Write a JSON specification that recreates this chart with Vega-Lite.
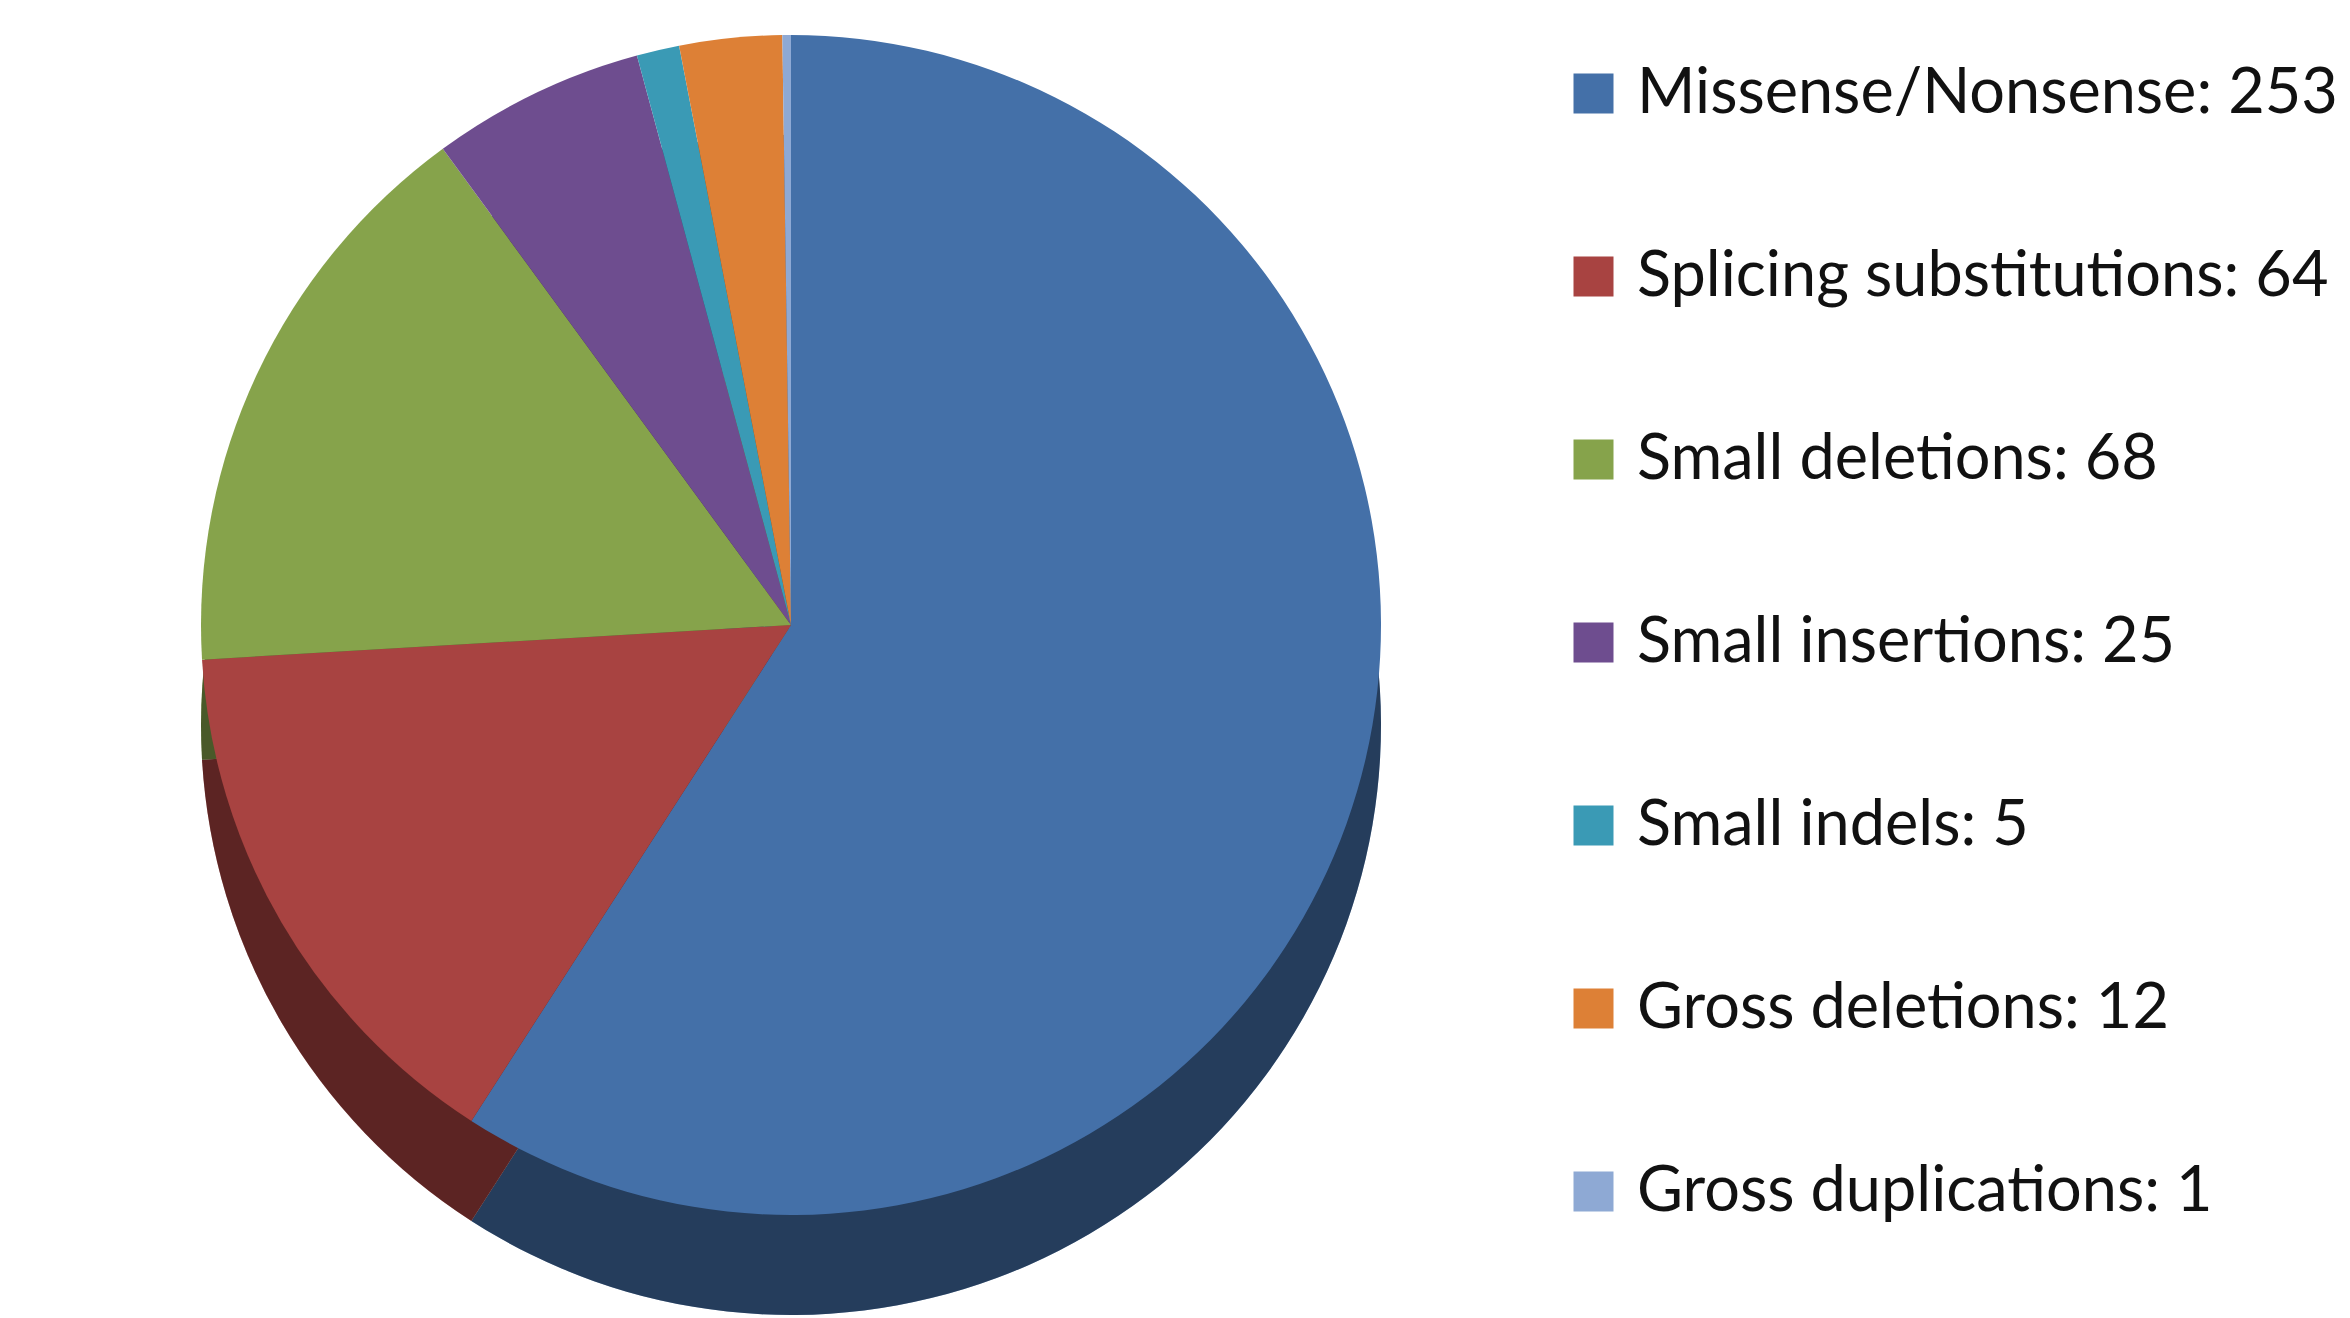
{
  "$schema": "https://vega.github.io/schema/vega-lite/v6.json",
  "autosize": {"type": "none"},
  "width": 1582,
  "height": 1250,
  "padding": {"left": 0, "top": 0, "right": 768, "bottom": 68},
  "background": "white",
  "data": {
    "values": [
      {"category": "Missense/Nonsense", "count": 253},
      {"category": "Splicing substitutions", "count": 64},
      {"category": "Small deletions", "count": 68},
      {"category": "Small insertions", "count": 25},
      {"category": "Small indels", "count": 5},
      {"category": "Gross deletions", "count": 12},
      {"category": "Gross duplications", "count": 1}
    ]
  },
  "transform": [
    {"window": [{"op": "row_number", "as": "idx"}]},
    {"calculate": "datum.category + ': ' + datum.count", "as": "label"}
  ],
  "encoding": {
    "theta": {"field": "count", "type": "quantitative", "stack": true},
    "color": {
      "field": "label",
      "type": "nominal",
      "sort": ["Missense/Nonsense: 253", "Splicing substitutions: 64", "Small deletions: 68", "Small insertions: 25", "Small indels: 5", "Gross deletions: 12", "Gross duplications: 1"],
      "scale": {
        "domain": ["Missense/Nonsense: 253", "Splicing substitutions: 64", "Small deletions: 68", "Small insertions: 25", "Small indels: 5", "Gross deletions: 12", "Gross duplications: 1"],
        "range": ["#4470A8", "#A84341", "#86A34B", "#6E4D8F", "#3A9AB5", "#DD8036", "#8EA9D4"]
      },
      "legend": {
        "title": null,
        "orient": "none",
        "legendX": 1562,
        "legendY": 62,
        "symbolType": "square",
        "symbolSize": 1600,
        "symbolStrokeWidth": 0,
        "labelFont": "Lato",
        "labelFontSize": 63,
        "labelColor": "#111111",
        "labelLimit": 0,
        "labelOffset": 12,
        "rowPadding": 119
      }
    },
    "order": {"field": "idx", "sort": "ascending", "type": "quantitative"}
  },
  "layer": [
    {"mark": {"type": "arc", "outerRadius": 590, "yOffset": 100}},
    {"mark": {"type": "arc", "outerRadius": 590, "yOffset": 100, "opacity": 0.45}, "encoding": {"color": {"value": "black"}}},
    {"mark": {"type": "arc", "outerRadius": 590}}
  ]
}
